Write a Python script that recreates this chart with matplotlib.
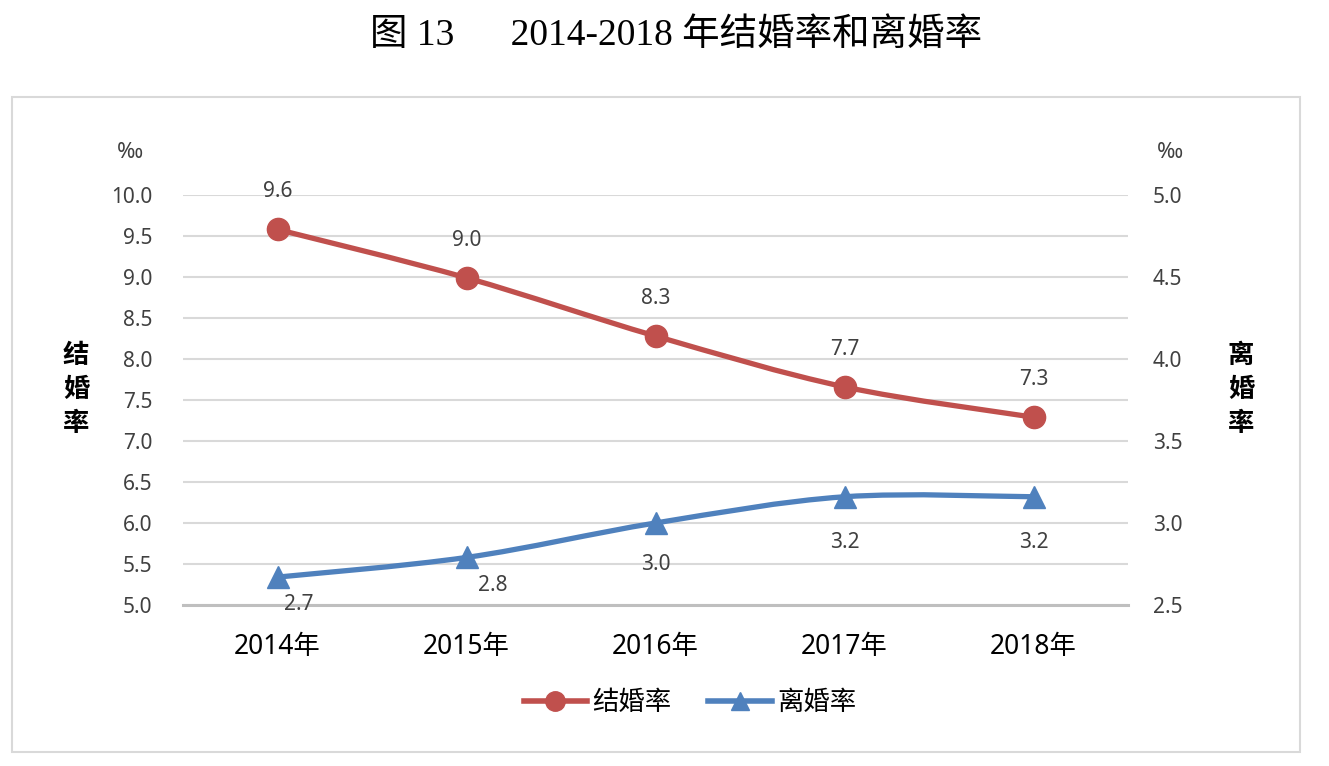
#!/usr/bin/env python3
# -*- encoding: utf-8 -*-

import numpy as np
from matplotlib import pyplot as plt
from matplotlib.lines import Line2D
from matplotlib.patches import Rectangle, PathPatch
from matplotlib.path import Path

plt.rcParams["font.family"] = ["Noto Sans", "Noto Sans CJK SC"]

years = ["2014年", "2015年", "2016年", "2017年", "2018年"]
marriage_rate = [9.58, 8.99, 8.28, 7.66, 7.29]
divorce_rate = [2.67, 2.79, 3.00, 3.16, 3.16]
left_ticks = [5.0, 5.5, 6.0, 6.5, 7.0, 7.5, 8.0, 8.5, 9.0, 9.5, 10.0]
right_ticks = [2.5, 3.0, 3.5, 4.0, 4.5, 5.0]

RED = "#C0504D"
BLUE = "#4F81BD"
LABEL_GRAY = "#404040"


def smooth_path(x, y):
    # Excel-like smoothed line: Catmull-Rom segments as cubic Bezier curves
    pts = np.column_stack([x, y]).astype(float)
    ext = np.vstack([pts[0], pts, pts[-1]])
    verts = [pts[0]]
    codes = [Path.MOVETO]
    for i in range(len(pts) - 1):
        p0, p1, p2, p3 = ext[i], ext[i + 1], ext[i + 2], ext[i + 3]
        c1 = p1 + (p2 - p0) / 6.0
        c2 = p2 - (p3 - p1) / 6.0
        verts += [c1, c2, p2]
        codes += [Path.CURVE4] * 3
    return Path(verts, codes)


def main():
    fig = plt.figure(figsize=(13.29, 7.66), dpi=100)
    ax = fig.add_axes([0.1377, 0.2102, 0.7111, 0.5352])
    ax2 = ax.twinx()

    x = np.arange(len(years))

    ax.add_patch(PathPatch(smooth_path(x, marriage_rate), facecolor="none",
                           edgecolor=RED, lw=3.8, capstyle="round", zorder=3))
    ax.plot(x, marriage_rate, "o", color=RED, markersize=16, zorder=4)
    ax2.add_patch(PathPatch(smooth_path(x, divorce_rate), facecolor="none",
                            edgecolor=BLUE, lw=3.8, capstyle="round", zorder=3))
    ax2.plot(x, divorce_rate, "^", color=BLUE, markersize=16, zorder=4)

    ax.set_xlim(-0.5, len(years) - 0.5)
    ax.set_ylim(5.0, 10.0)
    ax2.set_ylim(2.5, 5.0)

    ax.set_yticks(left_ticks)
    ax.set_yticklabels([f"{t:.1f}" for t in left_ticks])
    ax2.set_yticks(right_ticks)
    ax2.set_yticklabels([f"{t:.1f}" for t in right_ticks])
    ax.set_xticks(x)
    ax.set_xticklabels(years)

    ax.tick_params(axis="y", length=0, pad=22, labelsize=15, labelcolor=LABEL_GRAY)
    ax2.tick_params(axis="y", length=0, pad=18, labelsize=15, labelcolor=LABEL_GRAY)
    ax.tick_params(axis="x", length=0, pad=20, labelsize=19, labelcolor="black")

    for spine in ["top", "left", "right"]:
        ax.spines[spine].set_visible(False)
        ax2.spines[spine].set_visible(False)
    ax2.spines["bottom"].set_visible(False)
    ax.spines["bottom"].set_color("#BFBFBF")
    ax.spines["bottom"].set_linewidth(2.2)
    ax.spines["bottom"].set_zorder(2)

    ax.grid(axis="y", color="#D9D9D9", lw=1.5)
    ax.set_axisbelow(True)

    # data labels
    for xi, v in zip(x, marriage_rate):
        ax.annotate(f"{v:.1f}", (xi, v), xytext=(0, 27), textcoords="offset points",
                    ha="center", va="center", fontsize=15, color=LABEL_GRAY, zorder=5)
    offsets = [(15, -20), (19, -20), (0, -30), (0, -33), (0, -33)]
    for xi, v, off in zip(x, divorce_rate, offsets):
        ax2.annotate(f"{v:.1f}", (xi, v), xytext=off, textcoords="offset points",
                     ha="center", va="center", fontsize=15, color=LABEL_GRAY, zorder=5)

    # units and axis titles
    fig.text(130 / 1329, 1 - 152 / 766, "‰", ha="center", va="center",
             fontsize=16, color=LABEL_GRAY)
    fig.text(1170 / 1329, 1 - 152 / 766, "‰", ha="center", va="center",
             fontsize=16, color=LABEL_GRAY)
    fig.text(76 / 1329, 1 - 390 / 766, "结\n婚\n率", ha="center", va="center",
             fontsize=19, fontweight="bold", linespacing=1.3)
    fig.text(1241 / 1329, 1 - 390 / 766, "离\n婚\n率", ha="center", va="center",
             fontsize=19, fontweight="bold", linespacing=1.3)

    fig.text(676 / 1329, 1 - 36 / 766, "图 13      2014-2018 年结婚率和离婚率",
             ha="center", va="center", fontsize=27,
             family=["Liberation Serif", "Noto Sans CJK SC"])

    handles = [
        Line2D([], [], color=RED, lw=4, marker="o", markersize=14),
        Line2D([], [], color=BLUE, lw=4, marker="^", markersize=13),
    ]
    fig.legend(handles, ["结婚率", "离婚率"], loc="center",
               bbox_to_anchor=(690 / 1329, 1 - 703 / 766), ncol=2, frameon=False,
               fontsize=19, handlelength=2.4, handletextpad=0.2, columnspacing=1.4)

    fig.patches.append(Rectangle((12 / 1329, 1 - 752 / 766), 1288 / 1329, 655 / 766,
                                 transform=fig.transFigure, fill=False,
                                 edgecolor="#D9D9D9", lw=1.5))

    fig.savefig("out.png", dpi=100, facecolor="white")


if __name__ == "__main__":
    main()
